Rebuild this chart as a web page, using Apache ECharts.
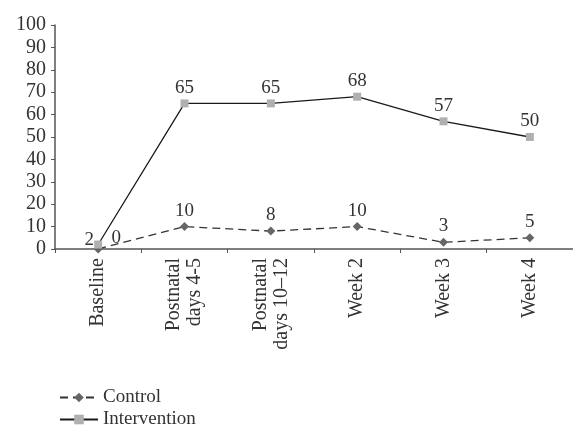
<!DOCTYPE html>
<html>
<head>
<meta charset="utf-8">
<script src="https://cdn.jsdelivr.net/npm/echarts@6/dist/echarts.min.js"></script>
<style>
html,body{margin:0;padding:0;background:#fff;}
#c{width:573px;height:430px;}
</style>
</head>
<body>
<div id="c"></div>
<script>
var categories = ['Baseline', 'Postnatal\ndays 4-5', 'Postnatal\ndays 10\u201312', 'Week 2', 'Week 3', 'Week 4'];
var controlValues = [0, 10, 8, 10, 3, 5];
var interventionValues = [2, 65, 65, 68, 57, 50];
var yTicks = [0, 100, 10];

var FONT = 'Liberation Serif';
var chart = echarts.init(document.getElementById('c'), null, {renderer: 'canvas'});

function labelData(vals, firstLabel) {
  return vals.map(function (v, i) {
    if (i === 0) return {value: v, label: firstLabel};
    return v;
  });
}

chart.setOption({
  backgroundColor: '#fff',
  animation: false,
  textStyle: {fontFamily: FONT},
  grid: {left: 55, top: 25, width: 528, height: 224},
  legend: [
    {
      left: 54,
      top: 383,
      itemWidth: 38,
      itemHeight: 12,
      data: ['Control'],
      textStyle: {fontFamily: FONT, fontSize: 19, color: '#333'}
    },
    {
      left: 54,
      top: 405,
      itemWidth: 38,
      itemHeight: 12,
      data: ['Intervention'],
      textStyle: {fontFamily: FONT, fontSize: 19, color: '#333'}
    }
  ],
  xAxis: {
    type: 'category',
    data: categories,
    boundaryGap: true,
    axisLine: {lineStyle: {color: '#555', width: 1.5}},
    axisTick: {show: true, inside: false, length: 4, lineStyle: {color: '#555'}},
    axisLabel: {rotate: 90, margin: 9, fontFamily: FONT, fontSize: 20, color: '#333', lineHeight: 21}
  },
  yAxis: {
    type: 'value',
    min: yTicks[0],
    max: yTicks[1],
    interval: yTicks[2],
    splitLine: {show: false},
    axisLine: {show: true, lineStyle: {color: '#555', width: 1.5}},
    axisTick: {show: true, length: 4, lineStyle: {color: '#555'}},
    axisLabel: {margin: 9, fontFamily: FONT, fontSize: 20, color: '#333'}
  },
  series: [
    {
      name: 'Intervention',
      type: 'line',
      data: labelData(interventionValues, {position: 'top', offset: [-9, 11]}),
      symbol: 'rect',
      symbolSize: 8,
      z: 3,
      lineStyle: {color: '#1a1a1a', width: 1.3, type: 'solid'},
      itemStyle: {color: '#b0b0b0', borderWidth: 0},
      label: {show: true, position: 'top', distance: 2, fontFamily: FONT, fontSize: 19, color: '#333'}
    },
    {
      name: 'Control',
      type: 'line',
      data: labelData(controlValues, {position: 'top', offset: [18, 5]}),
      symbol: 'diamond',
      symbolSize: 9,
      z: 2,
      lineStyle: {color: '#333', width: 1.3, type: [8, 5]},
      itemStyle: {color: '#666', borderWidth: 0},
      label: {show: true, position: 'top', distance: 2, fontFamily: FONT, fontSize: 19, color: '#333'}
    }
  ]
});
</script>
</body>
</html>
